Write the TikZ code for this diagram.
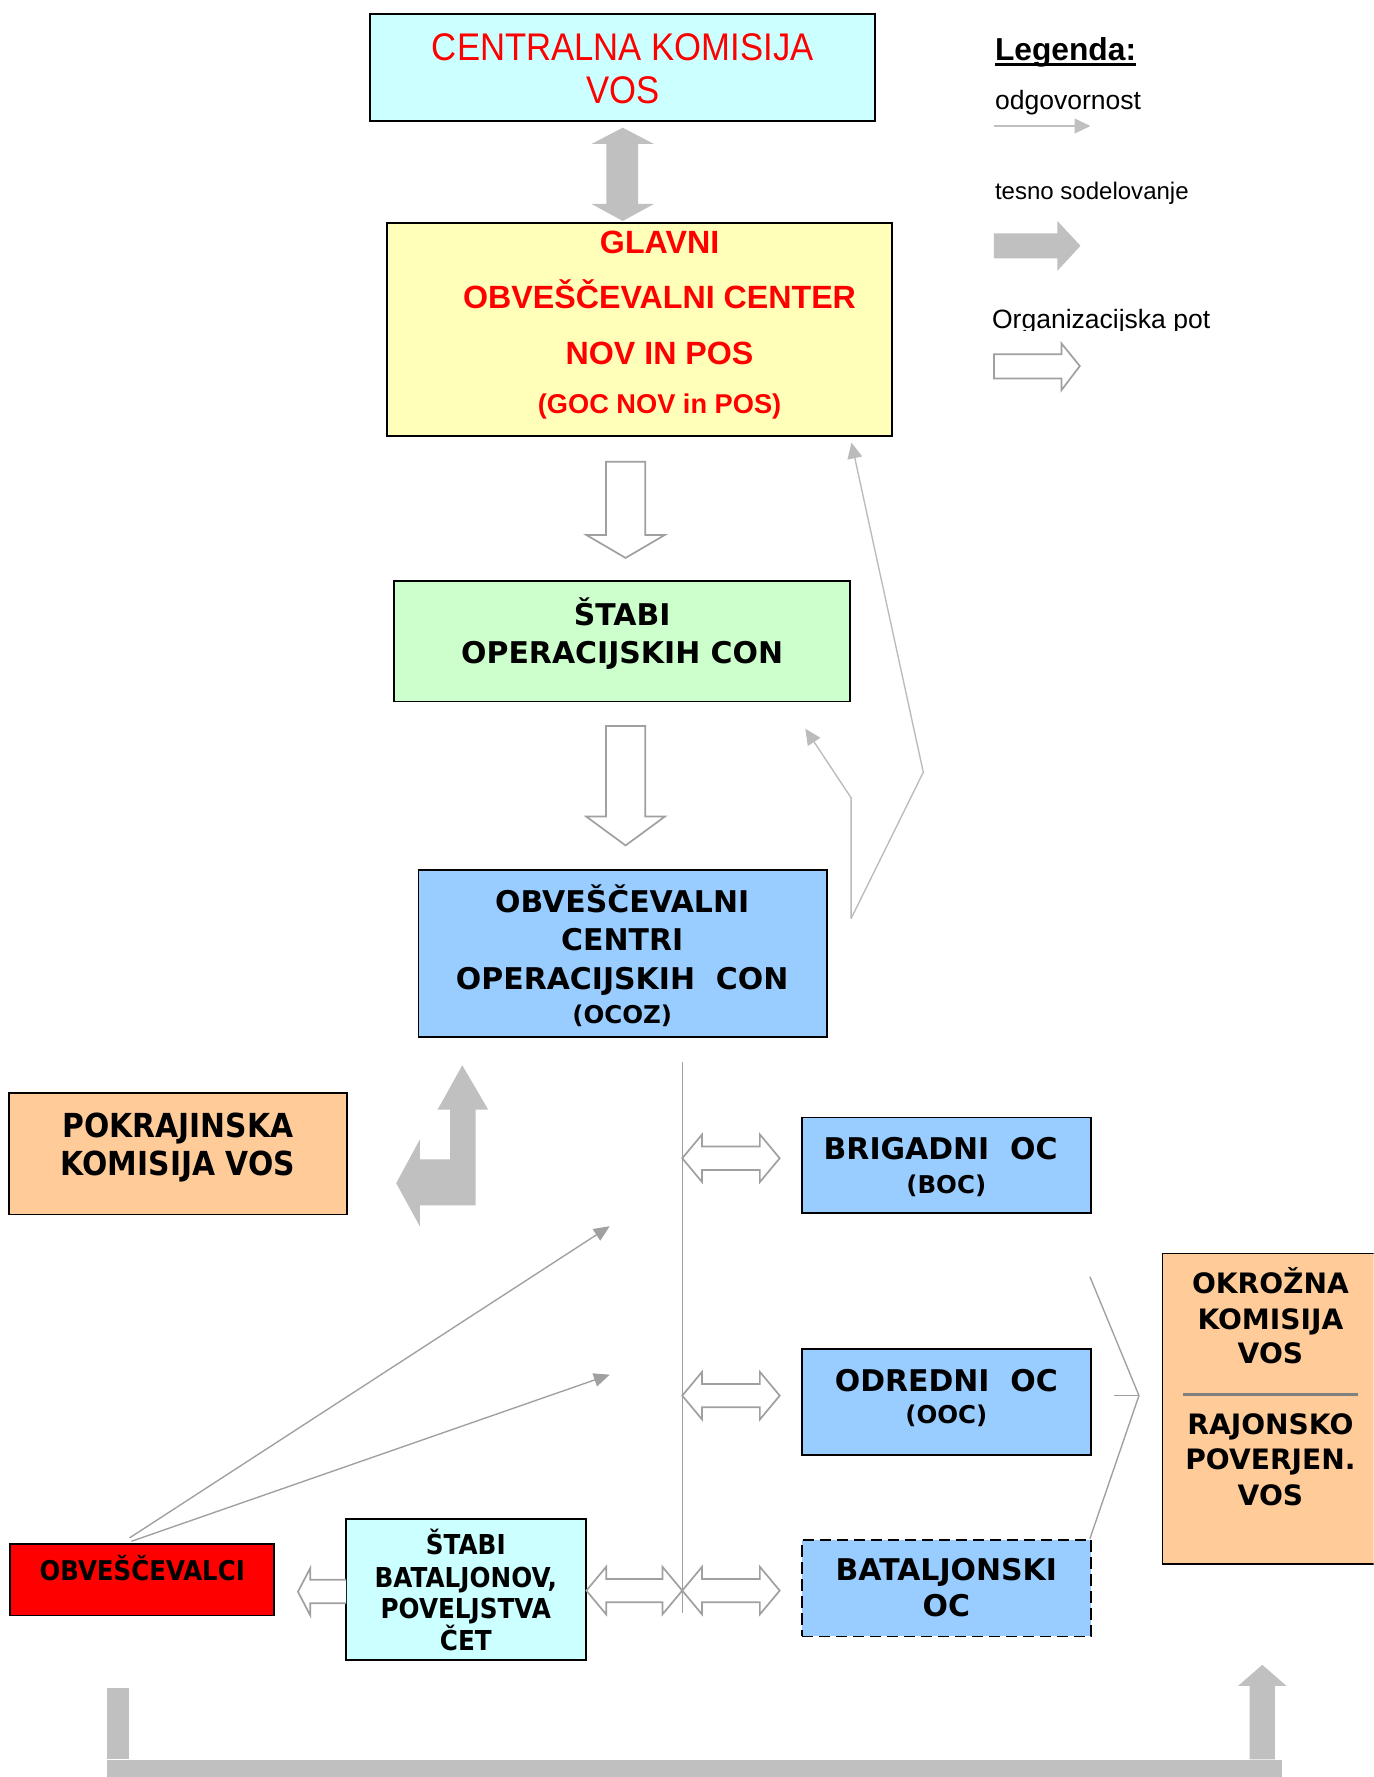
\documentclass[tikz,border=0pt]{standalone}
\usepackage{fontspec}
\setmainfont{Liberation Sans}
\newfontfamily\arialN[FakeStretch=0.9]{Liberation Sans}
\newfontfamily\verdF{DejaVu Sans}
\newfontfamily\tahF[FakeStretch=0.9]{DejaVu Sans}
\usetikzlibrary{arrows.meta,calc}
\definecolor{boxcyan}{HTML}{CCFFFF}
\definecolor{boxyellow}{HTML}{FFFFB9}
\definecolor{boxgreen}{HTML}{CCFFCC}
\definecolor{boxblue}{HTML}{99CCFF}
\definecolor{boxorange}{HTML}{FFCC99}
\definecolor{boxred}{HTML}{FF0000}
\definecolor{arrgray}{HTML}{C0C0C0}
\definecolor{outgray}{HTML}{A0A0A0}
\definecolor{lightline}{HTML}{BBBBBB}
\definecolor{midline}{HTML}{A0A0A0}
\definecolor{sepgray}{HTML}{808080}
\newcommand\dblarrow[3]{%
  \draw[orgarrow] (#1,#3) -- ({#1+17.5},{#3-21}) -- ({#1+17.5},{#3-10.3}) -- ({#2-17.5},{#3-10.3}) -- ({#2-17.5},{#3-21}) -- (#2,#3) -- ({#2-17.5},{#3+21}) -- ({#2-17.5},{#3+10.3}) -- ({#1+17.5},{#3+10.3}) -- ({#1+17.5},{#3+21}) -- cycle;}
\begin{document}
\begin{tikzpicture}[x=0.5pt,y=-0.5pt,
  box/.style={draw=black, line width=0.8pt, inner sep=0pt, outer sep=0pt},
  lbl/.style={anchor=base, inner sep=0pt, outer sep=0pt},
  redreg/.style={lbl, text=red, font=\arialN\fontsize{17}{20}\selectfont},
  redbold/.style={lbl, text=red, font=\bfseries\fontsize{14.2}{17}\selectfont},
  redsmall/.style={lbl, text=red, font=\bfseries\fontsize{12}{14}\selectfont},
  vbig/.style={lbl, font=\verdF\bfseries\fontsize{13.2}{16}\selectfont},
  vsmall/.style={lbl, font=\verdF\bfseries\fontsize{10.8}{13}\selectfont},
  vokr/.style={lbl, font=\verdF\bfseries\fontsize{12.4}{15}\selectfont},
  tbig/.style={lbl, font=\tahF\bfseries\fontsize{14.6}{17}\selectfont},
  tmid/.style={lbl, font=\tahF\bfseries\fontsize{12}{14}\selectfont},
  tstb/.style={lbl, font=\tahF\bfseries\fontsize{12.1}{14}\selectfont},
  legtxt/.style={anchor=base west, inner sep=0pt, outer sep=0pt},
  tesnofill/.style={fill=arrgray, draw=none},
  orgarrow/.style={draw=outgray, line width=0.75pt, fill=white, line join=miter},
  resp/.style={draw=lightline, line width=0.6pt, -{Triangle[length=7pt,width=6.5pt]}},
  resp2/.style={draw=midline, line width=0.6pt, -{Triangle[length=7pt,width=6pt, fill=midline]}},
  plainline/.style={draw=midline, line width=0.6pt}
]
\clip (0,0) rectangle (1212,1568);
\fill[white] (0,0) rectangle (1212,1568);

% ---------- boxes ----------
\node[box, fill=boxcyan, minimum width=222.85pt, minimum height=47.4pt] (central) at (549.2,59.4) {};
\node[box, fill=boxyellow, minimum width=222.7pt, minimum height=94pt] (glavni) at (564.2,290.6) {};
\node[box, fill=boxgreen, minimum width=201pt, minimum height=53pt] (stabiop) at (549,566) {};
\node[box, fill=boxblue, minimum width=180.15pt, minimum height=73.5pt] (ocoz) at (549.35,841.5) {};
\node[box, fill=boxorange, minimum width=149.15pt, minimum height=53.7pt] (pokr) at (157.05,1018) {};
\node[box, fill=boxblue, minimum width=127.6pt, minimum height=42pt] (boc) at (835.4,1028) {};
\node[box, fill=boxblue, minimum width=127.6pt, minimum height=46.75pt] (ooc) at (835.4,1236.75) {};
\node[box, fill=boxblue, dash pattern=on 5pt off 2.5pt, minimum width=127.6pt, minimum height=42.5pt] (bat) at (835.4,1401.5) {};
\node[box, fill=boxorange, minimum width=96.1pt, minimum height=137pt] (okr) at (1121.9,1243) {};
\node[box, fill=boxred, minimum width=116.6pt, minimum height=31.5pt] (obv) at (125.3,1393.9) {};
\node[box, fill=boxcyan, minimum width=106pt, minimum height=62.3pt] (stbat) at (411.4,1402.3) {};

% separator in okrozna box
\draw[sepgray, line width=1.5pt] (1044,1230.7) -- (1198.6,1230.7);

% ---------- thin lines (odgovornost) ----------
\coordinate (ocozR) at (751,810.5);
\coordinate (kinkA) at (814.7,681.4);
\coordinate (tipA) at (751.3,390.5);
\coordinate (kinkB) at (751,704);
\coordinate (tipB) at (710.6,643);
\draw[resp] (ocozR) -- (kinkA) -- (tipA);
\draw[resp] (ocozR) -- (kinkB) -- (tipB);

\coordinate (obvT1) at (114.3,1357);
\coordinate (obvT2) at (116,1360);
\coordinate (tipC) at (538,1082);
\coordinate (tipD) at (538,1213);
\draw[resp2] (obvT1) -- (tipC);
\draw[resp2] (obvT2) -- (tipD);

\coordinate (vtop) at (602,937);
\coordinate (vbot) at (602,1423);
\draw[plainline] (vtop) -- (vbot);

\coordinate (brA) at (961.7,1126.5);
\coordinate (brM) at (1005,1231.4);
\coordinate (brB) at (961.7,1357.7);
\coordinate (brS) at (983,1231.4);
\draw[plainline, line join=miter] (brA) -- (brM) -- (brB);
\draw[plainline] (brS) -- (brM);

% ---------- block arrows ----------
% central <-> glavni
\fill[tesnofill] (549.5,112.7) -- (577,127) -- (563,127) -- (563,180) -- (577,180) -- (549.5,195) -- (522,180) -- (535,180) -- (535,127) -- (522,127) -- cycle;
% glavni -> stabiop
\draw[orgarrow] (534.7,407.5) -- (569.4,407.5) -- (569.4,472) -- (586.7,472) -- (552,492.3) -- (517.3,472) -- (534.7,472) -- cycle;
% stabiop -> ocoz
\draw[orgarrow] (534.7,640.6) -- (569.4,640.6) -- (569.4,720.5) -- (586.7,720.5) -- (552,746) -- (517.3,720.5) -- (534.7,720.5) -- cycle;
% bent arrow near pokrajinska
\fill[tesnofill] (349.6,1044) -- (370.4,1005.5) -- (370.4,1023) -- (397.2,1023) -- (397.2,979) -- (386.2,979) -- (407.9,940) -- (430.7,979) -- (419.7,979) -- (419.7,1063.7) -- (370.4,1063.7) -- (370.4,1082) -- cycle;
% double arrows
\dblarrow{602}{688}{1022}
\dblarrow{602}{688}{1231.5}
\dblarrow{602}{688}{1403.5}
\dblarrow{517.4}{602}{1403.5}
% stbat -> obv
\draw[orgarrow] (305.4,1394) -- (273.8,1394) -- (273.8,1383.6) -- (262.9,1404.5) -- (273.8,1425.4) -- (273.8,1414.7) -- (305.4,1414.7);
% bottom bracket
\fill[tesnofill] (94.7,1489.5) rectangle (113.9,1552.4);
\fill[tesnofill] (94.7,1553.3) rectangle (1131.4,1572);
\fill[tesnofill] (1102.6,1552.4) -- (1102.6,1487.5) -- (1092.6,1487.5) -- (1113.8,1469) -- (1135,1487.5) -- (1125,1487.5) -- (1125,1552.4) -- cycle;

% ---------- legend ----------
\node[legtxt, font=\bfseries\fontsize{14}{16}\selectfont] (legT) at (878,53) {Legenda:};
\draw[line width=1pt] ($(legT.base west)+(0,3.8)$) -- ($(legT.base east)+(0,3.8)$);
\node[legtxt, font=\fontsize{11.7}{14}\selectfont] (legA) at (878,97) {odgovornost};
\coordinate (legA1) at (877.5,111.2);
\coordinate (legA2) at (962.2,111.2);
\draw[resp, draw=arrgray] (legA1) -- (legA2);
\node[legtxt, font=\fontsize{10.6}{13}\selectfont] (legB) at (878,176) {tesno sodelovanje};
\fill[tesnofill] (877,206) -- (933,206) -- (933,195) -- (953.4,216.9) -- (933,239) -- (933,228) -- (877,228) -- cycle;
\begin{scope}
\clip (860,255) rectangle (1100,291.3);
\node[legtxt, font=\fontsize{11.7}{14}\selectfont] (legC) at (875.4,289.8) {Organizacijska pot};
\end{scope}
\draw[orgarrow] (877,312.5) -- (936.6,312.5) -- (936.6,303) -- (952.8,323) -- (936.6,344.3) -- (936.6,334) -- (877,334) -- cycle;

% ---------- texts ----------
\node[redreg] (c1) at (549.5,53.8) {CENTRALNA KOMISIJA};
\node[redreg] (c2) at (549.5,91.2) {VOS};

\node[redbold] (g1) at (582,223.6) {GLAVNI};
\node[redbold] (g2) at (582,272.2) {OBVEŠČEVALNI CENTER};
\node[redbold] (g3) at (582,321.3) {NOV IN POS};
\node[redsmall] (g4) at (582,364.9) {(GOC NOV in POS)};

\node[vbig] (s1) at (549,552.3) {ŠTABI};
\node[vbig] (s2) at (549,585.4) {OPERACIJSKIH CON};

\node[vbig] (o1) at (549,805.5) {OBVEŠČEVALNI};
\node[vbig] (o2) at (549,839) {CENTRI};
\node[vbig] (o3) at (549,872.8) {OPERACIJSKIH\ \ CON};
\node[vsmall] (o4) at (549,903) {(OCOZ)};

\node[tbig] (p1) at (157,1003.4) {POKRAJINSKA};
\node[tbig] (p2) at (157,1037.3) {KOMISIJA VOS};

\node[vbig] (b1) at (830,1023.1) {BRIGADNI\ \ OC};
\node[vsmall] (b2) at (835,1053.4) {(BOC)};
\node[vbig] (d1) at (835,1227.6) {ODREDNI\ \ OC};
\node[vsmall] (d2) at (835,1256.5) {(OOC)};
\node[vbig] (t1) at (835,1394.8) {BATALJONSKI};
\node[vbig] (t2) at (835,1426.7) {OC};

\node[vokr] (k1) at (1121,1141) {OKROŽNA};
\node[vokr] (k2) at (1121,1173) {KOMISIJA};
\node[vokr] (k3) at (1121,1203.5) {VOS};
\node[vokr] (k4) at (1121,1265.5) {RAJONSKO};
\node[vokr] (k5) at (1121,1296.5) {POVERJEN.};
\node[vokr] (k6) at (1121,1328) {VOS};

\node[tmid] (v1) at (125.5,1395) {OBVEŠČEVALCI};

\node[tstb] (e1) at (411,1372) {ŠTABI};
\node[tstb] (e2) at (411,1401) {BATALJONOV,};
\node[tstb] (e3) at (411,1428.5) {POVELJSTVA};
\node[tstb] (e4) at (411,1456) {ČET};
\end{tikzpicture}
\end{document}
